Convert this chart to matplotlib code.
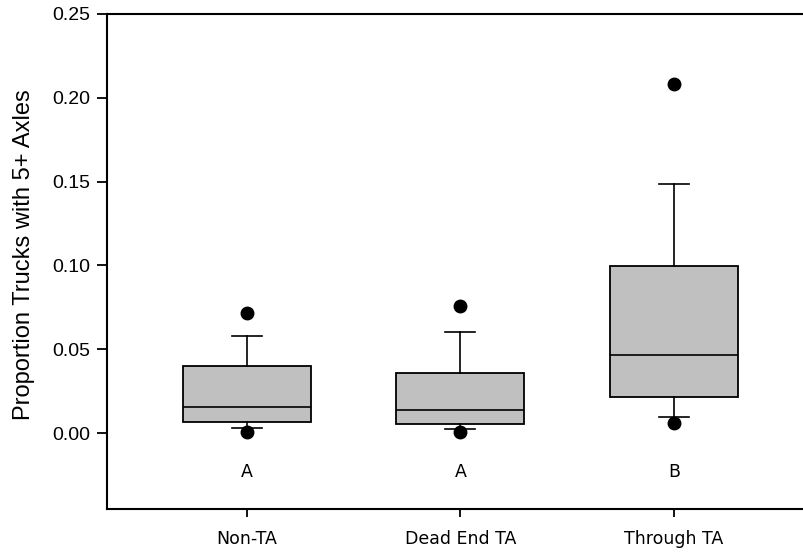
import matplotlib
matplotlib.use('Agg')
import matplotlib.pyplot as plt

# Box statistics
groups = ['Non-TA', 'Dead End TA', 'Through TA']
whislo = [0.0028, 0.0022, 0.0097]
q1 = [0.0064, 0.0054, 0.0213]
med = [0.0153, 0.0135, 0.0464]
q3 = [0.0400, 0.0360, 0.0996]
whishi = [0.0580, 0.0600, 0.1487]
outliers = [[0.0718, 0.0008], [0.0760, 0.0008], [0.2080, 0.0058]]
letters = ['A', 'A', 'B']
letter_y = -0.023

stats = []
for i, g in enumerate(groups):
    stats.append({'label': g, 'whislo': whislo[i], 'q1': q1[i], 'med': med[i],
                  'q3': q3[i], 'whishi': whishi[i], 'fliers': outliers[i]})

fig = plt.figure(figsize=(8.04, 5.52), dpi=100)
ax = fig.add_axes([107 / 804, 1 - 509 / 552, 1 - 107 / 804, (509 - 14) / 552])

ax.bxp(stats, positions=[1, 2, 3], widths=0.6, patch_artist=True,
       boxprops=dict(facecolor='#c0c0c0', edgecolor='black', linewidth=1.3),
       medianprops=dict(color='black', linewidth=1.2),
       whiskerprops=dict(color='black', linewidth=1.2),
       capprops=dict(color='black', linewidth=1.2),
       capwidths=0.14,
       flierprops=dict(marker='o', markerfacecolor='black', markeredgecolor='black',
                       markersize=9, linestyle='none'))

for i, t in enumerate(letters):
    ax.text(i + 1, letter_y, t, ha='center', va='center', fontsize=12.5,
            family='DejaVu Sans')

ax.set_xlim(0.345, 3.61)
ax.set_ylim(-0.0453, 0.25)
ax.set_yticks([0.0, 0.05, 0.10, 0.15, 0.20, 0.25])
ax.set_yticklabels(['0.00', '0.05', '0.10', '0.15', '0.20', '0.25'],
                   family='Liberation Sans', fontsize=14)
ax.set_xticks([1, 2, 3])
ax.set_xticklabels(groups, family='DejaVu Sans', fontsize=12.5)
ax.tick_params(axis='y', direction='out', length=7, width=1.3, pad=5)
ax.tick_params(axis='x', direction='out', length=6, width=1.3, pad=9)

ax.set_ylabel('Proportion Trucks with 5+ Axles', family='Liberation Sans',
              fontsize=17)
ax.yaxis.set_label_coords(-0.104, 0.513)
ax.spines['right'].set_visible(False)
for s in ['left', 'bottom', 'top']:
    ax.spines[s].set_linewidth(1.5)

fig.savefig('out.png', dpi=100)
